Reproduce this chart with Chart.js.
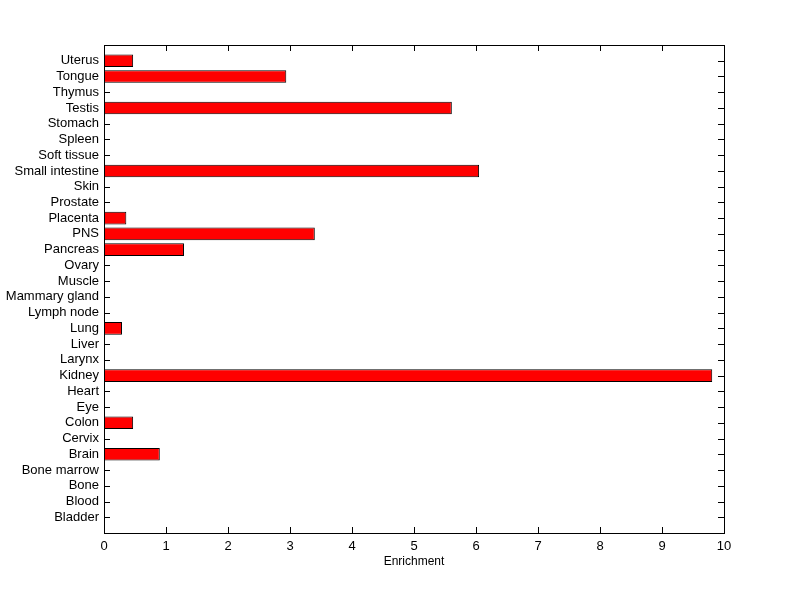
<!DOCTYPE html>
<html>
<head>
<meta charset="utf-8">
<script src="https://cdn.jsdelivr.net/npm/chart.js@4"></script>
<style>
    html, body { margin: 0; padding: 0; background: #fff; }
    #wrap { width: 800px; height: 599px; }
</style>
</head>
<body>
<div id="wrap"><canvas id="chart" width="800" height="599"></canvas></div>
<script>

/* ---------------- DATA ---------------- */

// listed top to bottom, as drawn
const tissues = [
    'Uterus', 'Tongue', 'Thymus', 'Testis', 'Stomach', 'Spleen', 'Soft tissue',
    'Small intestine', 'Skin', 'Prostate', 'Placenta', 'PNS', 'Pancreas', 'Ovary',
    'Muscle', 'Mammary gland', 'Lymph node', 'Lung', 'Liver', 'Larynx', 'Kidney',
    'Heart', 'Eye', 'Colon', 'Cervix', 'Brain', 'Bone marrow', 'Bone', 'Blood', 'Bladder'
];

const enrichment = [
    0.47, 2.94, 0, 5.61, 0, 0, 0,
    6.05, 0, 0, 0.36, 3.40, 1.29, 0,
    0, 0, 0, 0.29, 0, 0, 9.81,
    0, 0, 0.47, 0, 0.90, 0, 0, 0, 0
];

const xTicks = [0, 1, 2, 3, 4, 5, 6, 7, 8, 9, 10];

/* ---------------- MATLAB STYLE FRAME ---------------- */

const FONT = { family: 'Liberation Sans, Arial, sans-serif', size: 13 };

// inward ticks on all four sides, drawn under the bars
const boxTicks = {
    id: 'boxTicks',
    beforeDatasetsDraw(chart) {
        const ctx = chart.ctx;
        const a = chart.chartArea;
        const xs = chart.scales.x;
        const ys = chart.scales.y;
        const len = 6;

        ctx.save();
        ctx.strokeStyle = '#000';
        ctx.lineWidth = 1;
        ctx.beginPath();

        xTicks.forEach(v => {
            const px = Math.round(xs.getPixelForValue(v)) + 0.5;
            ctx.moveTo(px, a.bottom);
            ctx.lineTo(px, a.bottom - len);
            ctx.moveTo(px, a.top);
            ctx.lineTo(px, a.top + len);
        });

        tissues.forEach((t, i) => {
            const py = Math.round(ys.getPixelForValue(i + 1)) + 0.5;
            ctx.moveTo(a.left, py);
            ctx.lineTo(a.left + len, py);
            ctx.moveTo(a.right, py);
            ctx.lineTo(a.right - len, py);
        });

        ctx.stroke();
        ctx.restore();
    },
    afterDraw(chart) {
        const ctx = chart.ctx;
        const a = chart.chartArea;

        ctx.save();
        ctx.strokeStyle = '#000';
        ctx.lineWidth = 1;
        ctx.strokeRect(Math.round(a.left) + 0.5, Math.round(a.top) + 0.5,
            Math.round(a.right - a.left), Math.round(a.bottom - a.top));
        ctx.restore();
    }
};

/* ---------------- CHART ---------------- */

function initChart() {

    const ctx = document.getElementById('chart');

    // blank slot at each end so the categories sit one step in from the frame
    const labels = [''].concat(tissues, ['']);
    const values = [null].concat(enrichment, [null]);

    new Chart(ctx, {
        type: 'bar',
        data: {
            labels: labels,
            datasets: [{
                data: values,
                backgroundColor: '#ff0000',
                borderColor: '#000000',
                borderWidth: 1,
                borderSkipped: false,
                barPercentage: 0.8,
                categoryPercentage: 1.0
            }]
        },
        options: {
            indexAxis: 'y',
            responsive: false,
            animation: false,
            layout: {
                padding: { left: 0, top: 45, right: 76, bottom: 30 }
            },
            plugins: {
                legend: { display: false },
                tooltip: { enabled: false }
            },
            scales: {
                x: {
                    type: 'linear',
                    min: 0,
                    max: 10,
                    afterFit(scale) { scale.height = 36; },
                    afterBuildTicks(scale) {
                        scale.ticks = xTicks.map(v => ({ value: v }));
                    },
                    grid: { display: false, drawTicks: false },
                    border: { display: false },
                    ticks: {
                        color: '#000',
                        font: FONT,
                        padding: 6,
                        maxRotation: 0
                    },
                    title: {
                        display: true,
                        text: 'Enrichment',
                        color: '#000',
                        font: { family: FONT.family, size: 12 },
                        padding: { top: 2, bottom: 0 }
                    }
                },
                y: {
                    type: 'category',
                    offset: false,
                    afterFit(scale) { scale.width = 104; },
                    grid: { display: false, drawTicks: false },
                    border: { display: false },
                    ticks: {
                        color: '#000',
                        font: FONT,
                        padding: 5,
                        autoSkip: false
                    }
                }
            }
        },
        plugins: [boxTicks]
    });

}

document.addEventListener('DOMContentLoaded', () => {

    initChart();

});

</script>
</body>
</html>
